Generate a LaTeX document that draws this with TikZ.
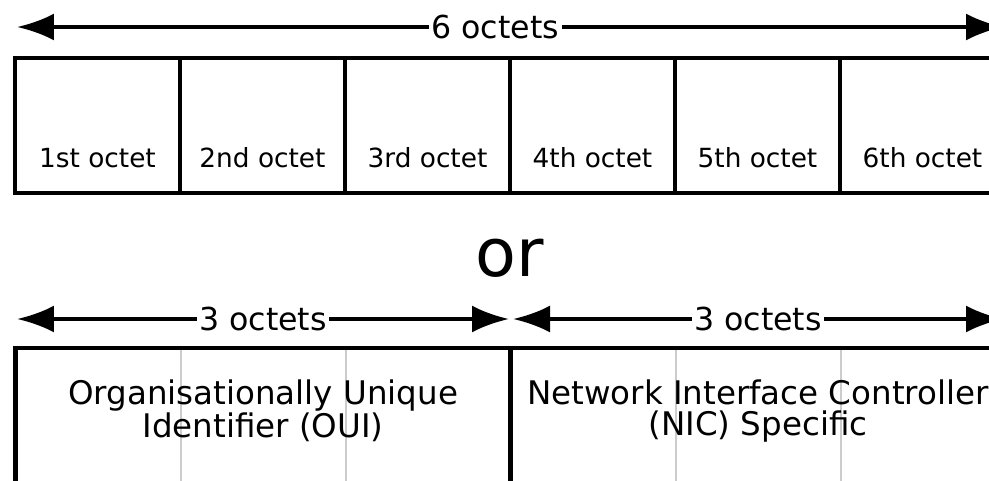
\documentclass[tikz,border=0pt]{standalone}
\usepackage{fontspec}
\setmainfont{DejaVu Sans}
\usetikzlibrary{arrows.meta, positioning}

\begin{document}
\begin{tikzpicture}[
      x=0.02cm, y=-0.02cm,  % one unit = one pixel of the layout
      every node/.style={font=\fontsize{15}{18}\selectfont, inner sep=0pt},
      octetcell/.style={rectangle, draw, line width=2.8pt, outer sep=0pt, minimum width=3.3cm, minimum height=2.7cm},
      fieldbox/.style={rectangle, draw, line width=2.8pt, outer sep=0pt, minimum width=9.9cm, minimum height=2.7cm},
      span/.style={line width=2.3pt, {Latex[length=0.74cm,width=0.54cm]}-{Latex[length=0.74cm,width=0.54cm]}},
      spanlabel/.style={fill=white, inner xsep=1.5pt, inner ysep=2pt, font=\fontsize{18}{21}\selectfont},
      fieldtext/.style={align=center, font=\fontsize{18.5}{17.2}\selectfont},
      ghost/.style={draw=black!20, line width=1.6pt}
    ]
    \useasboundingbox (0,0) rectangle (989,480);
    \clip (0,0) rectangle (989,480);

    % Six octets
    \coordinate (sixL) at (17,27);
    \coordinate (sixR) at (1003,27);
    \draw[span] (sixL) -- node[spanlabel, pos=0.485] (six) {6 octets} (sixR);
    \foreach \i/\nth in {1/1st, 2/2nd, 3/3rd, 4/4th, 5/5th, 6/6th} {
      \node[octetcell] (oct\i) at ({97.5+165*(\i-1)},125.5) {};
      \node (lbl\i) at ({97.5+165*(\i-1)},158) {\nth\ octet};
    }

    \node[font=\fontsize{38}{40}\selectfont] (or) at (510,258) {or};

    % OUI and NIC halves
    \coordinate (ouiL) at (17,319);
    \coordinate (ouiR) at (509,319);
    \coordinate (nicL) at (513,319);
    \coordinate (nicR) at (1003,319);
    \draw[span] (ouiL) -- node[spanlabel] (ouispan) {3 octets} (ouiR);
    \draw[span] (nicL) -- node[spanlabel] (nicspan) {3 octets} (nicR);

    \foreach \x in {181, 346, 676, 841}
      \draw[ghost] (\x,348) -- (\x,483);
    \node[fieldbox] (oui) at (262.5,415.5) {};
    \node[fieldbox] (nic) at (757.5,415.5) {};
    \node[fieldtext] (ouitext) at (263,411) {Organisationally Unique\\Identifier (OUI)};
    \node[fieldtext] (nictext) at (758,411) {Network Interface Controller\\(NIC) Specific};
  \end{tikzpicture}
\end{document}
